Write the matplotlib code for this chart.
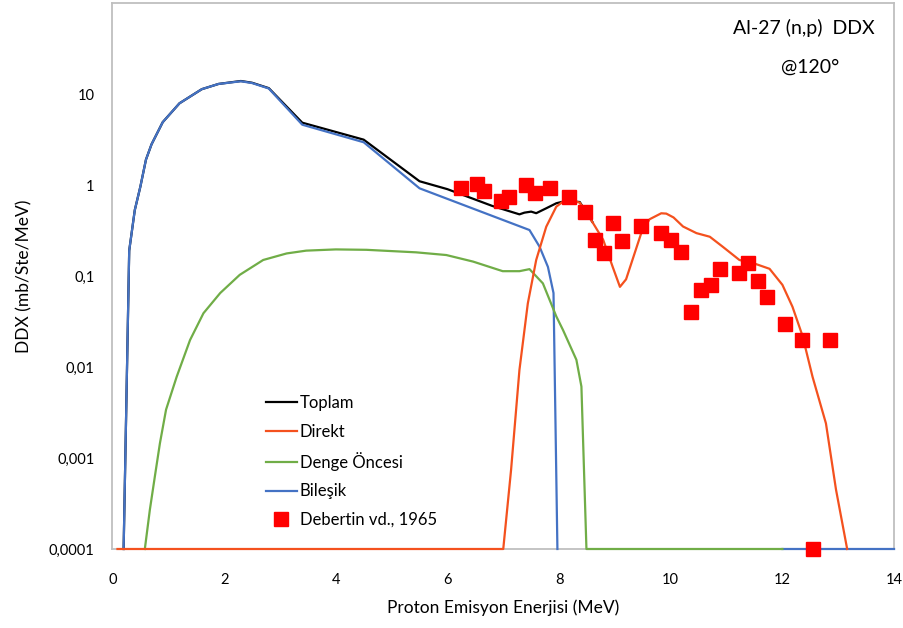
import numpy as np
import matplotlib.pyplot as plt
from matplotlib.ticker import FixedLocator, NullLocator

plt.rcParams['font.family'] = ['Lato', 'DejaVu Sans']

# Toplam (total)
toplam_x = [0.2, 0.3, 0.4, 0.5, 0.6, 0.7, 0.9, 1.2, 1.6, 1.9, 2.3, 2.5, 2.8, 3.4, 4.5, 5.5,
            6.0, 6.8, 7.29, 7.38, 7.5, 7.59, 7.77, 7.95, 8.13, 8.37, 8.6]
toplam_y = [1e-4, 0.19, 0.53, 0.96, 1.9, 2.8, 4.9, 7.9, 11.3, 12.9, 13.9, 13.3, 11.6, 4.84, 3.15, 1.1,
            0.9, 0.59, 0.476, 0.497, 0.51, 0.49, 0.555, 0.63, 0.67, 0.65, 0.39]

# Direkt
direkt_x = [0.09, 7.0, 7.14, 7.29, 7.44, 7.59, 7.77, 7.95, 8.13, 8.37, 8.61, 8.79, 8.96, 9.09,
            9.2, 9.47, 9.62, 9.83, 9.92, 10.05, 10.22, 10.46, 10.7, 10.93, 11.23, 11.53, 11.77,
            12.0, 12.18, 12.36, 12.54, 12.78, 12.96, 13.16]
direkt_y = [1e-4, 1e-4, 7.4e-4, 9.3e-3, 0.05, 0.15, 0.348, 0.578, 0.70, 0.64, 0.38, 0.25, 0.126, 0.076,
            0.092, 0.294, 0.42, 0.489, 0.485, 0.44, 0.35, 0.296, 0.27, 0.21, 0.15, 0.135, 0.12,
            0.08, 0.046, 0.022, 0.0078, 0.0024, 4.5e-4, 1e-4]

# Denge Oncesi (pre-equilibrium)
denge_x = [0.58, 0.67, 0.76, 0.85, 0.96, 1.15, 1.39, 1.63, 1.93, 2.28, 2.7, 3.12, 3.47, 4.0, 4.55,
           5.44, 5.98, 6.46, 6.99, 7.29, 7.47, 7.71, 7.95, 8.07, 8.31, 8.4, 8.49, 12.0]
denge_y = [1e-4, 2.7e-4, 6.3e-4, 1.45e-3, 3.4e-3, 7.8e-3, 0.0198, 0.039, 0.065, 0.103, 0.15, 0.177,
           0.19, 0.196, 0.194, 0.182, 0.17, 0.144, 0.113, 0.113, 0.119, 0.083, 0.036, 0.0255, 0.012,
           0.0061, 1e-4, 1e-4]

# Bilesik (compound)
bilesik_x = [0.2, 0.3, 0.4, 0.5, 0.6, 0.7, 0.9, 1.2, 1.6, 1.9, 2.3, 2.5, 2.8, 3.4, 4.5, 5.5,
             7.47, 7.65, 7.8, 7.9, 7.97, np.nan, 12.0, 14.0]
bilesik_y = [1e-4, 0.19, 0.53, 0.96, 1.9, 2.8, 4.9, 7.9, 11.3, 12.9, 13.8, 13.2, 11.5, 4.6, 2.95, 0.92,
             0.32, 0.21, 0.126, 0.065, 1e-4, np.nan, 1e-4, 1e-4]

# Debertin vd., 1965 experiment
exp_x = [6.25, 6.53, 6.66, 6.96, 7.11, 7.4, 7.56, 7.84, 8.17, 8.47, 8.64, 8.8, 8.96, 9.13, 9.47,
         9.82, 10.01, 10.19, 10.37, 10.55, 10.72, 10.88, 11.22, 11.38, 11.56, 11.73, 12.05,
         12.36, 12.55, 12.85]
exp_y = [0.93, 1.02, 0.86, 0.667, 0.745, 1.0, 0.81, 0.93, 0.745, 0.51, 0.249, 0.18, 0.386, 0.243, 0.357,
         0.294, 0.249, 0.185, 0.04, 0.070, 0.079, 0.119, 0.109, 0.14, 0.089, 0.059, 0.0297,
         0.0198, 1e-4, 0.0198]

y_ticks = [1e-4, 1e-3, 1e-2, 1e-1, 1, 10]
y_labels = ['0,0001', '0,001', '0,01', '0,1', '1', '10']
x_ticks = [0, 2, 4, 6, 8, 10, 12, 14]

fig = plt.figure(figsize=(9.04, 6.28), dpi=100)
ax = fig.add_axes([0.1244, 0.1258, 0.8646, 0.8694])

lw = 1.6
ax.plot(toplam_x, toplam_y, color='black', lw=lw, label='Toplam', zorder=2, clip_on=False)
ax.plot(direkt_x, direkt_y, color='#F4511E', lw=lw, label='Direkt', zorder=5, clip_on=False)
ax.plot(denge_x, denge_y, color='#70AD47', lw=lw, label='Denge Öncesi', zorder=4, clip_on=False)
ax.plot(bilesik_x, bilesik_y, color='#4472C4', lw=lw, label='Bileşik', zorder=3, clip_on=False)
ax.plot(exp_x, exp_y, 's', color='#FF0000', ms=10, mec='#FF0000', label='Debertin vd., 1965',
        zorder=6, clip_on=False)

ax.set_yscale('log')
ax.set_xlim(0, 14)
ax.set_ylim(1e-4, 100)
ax.yaxis.set_major_locator(FixedLocator(y_ticks))
ax.yaxis.set_minor_locator(NullLocator())
ax.set_yticklabels(y_labels)
ax.set_xticks(x_ticks)
ax.tick_params(axis='both', length=0, labelsize=10.5)
ax.tick_params(axis='x', pad=17)
ax.tick_params(axis='y', pad=13)

for s in ax.spines.values():
    s.set_color('#BFBFBF')
    s.set_linewidth(1.3)

ax.set_xlabel('Proton Emisyon Enerjisi (MeV)', fontsize=12.5, labelpad=9)
ax.set_ylabel('DDX (mb/Ste/MeV)', fontsize=12.5, labelpad=12)

ax.text(0.975, 0.955, 'Al-27 (n,p)  DDX', transform=ax.transAxes, ha='right', va='center', fontsize=14)
ax.text(0.93, 0.883, '@120°', transform=ax.transAxes, ha='right', va='center', fontsize=14)

ax.legend(loc='upper left', bbox_to_anchor=(0.196, 0.282), frameon=False, fontsize=12,
          handlelength=1.9, handletextpad=0.15, labelspacing=0.75, borderpad=0, borderaxespad=0)

fig.savefig('out.png', dpi=100)
